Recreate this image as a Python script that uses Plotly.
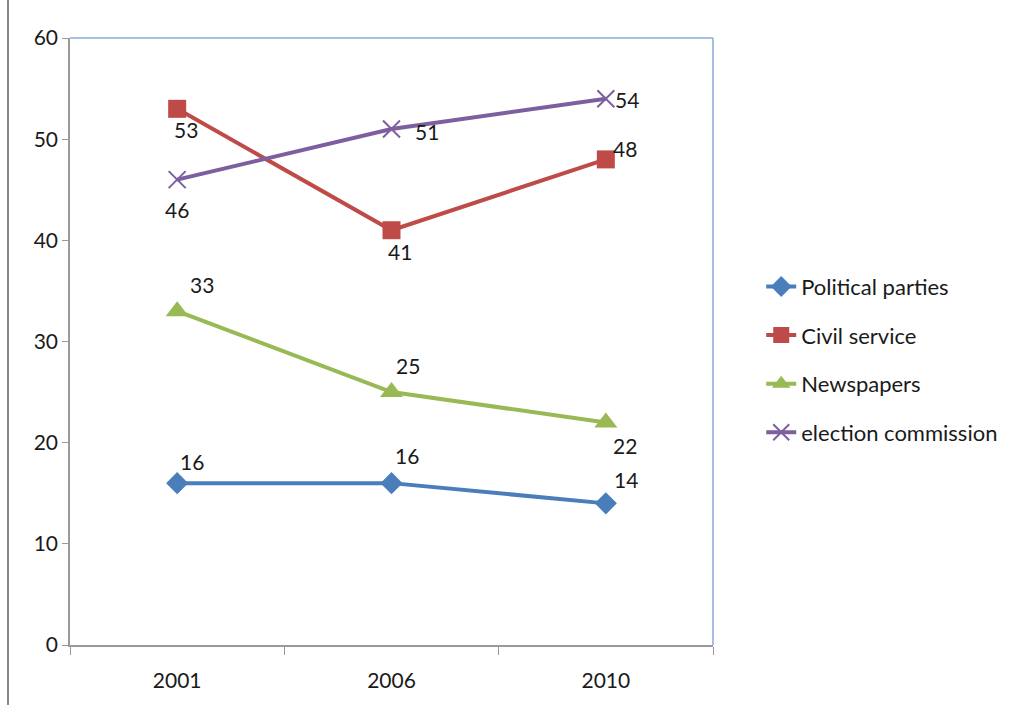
import plotly.graph_objects as go

years = ["2001", "2006", "2010"]
political_parties = [16, 16, 14]
civil_service = [53, 41, 48]
newspapers = [33, 25, 22]
election_commission = [46, 51, 54]

series = [
    ("Political parties", political_parties, "#4a7ebb", "diamond", 17, None),
    ("Civil service", civil_service, "#be4b48", "square", 18, None),
    ("Newspapers", newspapers, "#98b954", "triangle-up", 20, None),
    ("election commission", election_commission, "#7d5fa0", "x-thin", 17, 2),
]

# label offsets (px) per series, per point
offsets = {
    "Political parties": [(15, 22), (15, 28), (20, 24)],
    "Civil service": [(9, -21), (8, -21), (19, 11)],
    "Newspapers": [(25, 27), (16, 27), (19, -23)],
    "election commission": [(0, -30), (35, -2), (21, -1)],
}

fig = go.Figure()
for name, vals, color, sym, size, lw in series:
    marker = dict(symbol=sym, size=size, color=color)
    if lw:
        marker["line"] = dict(width=lw, color=color)
    fig.add_trace(go.Scatter(
        x=years, y=vals, name=name, mode="lines+markers",
        line=dict(color=color, width=4), marker=marker,
        legendgroup=name,
    ))
    # category positions are addressed by index for the value labels
    for i, ((dx, dy), yv) in enumerate(zip(offsets[name], vals)):
        fig.add_annotation(x=i, y=yv, text=str(yv), showarrow=False,
                           xshift=dx, yshift=dy,
                           font=dict(size=21, color="#1a1a1a"))

fig.update_layout(
    width=1020, height=705,
    margin=dict(l=70, r=307, t=38, b=60),
    paper_bgcolor="white", plot_bgcolor="white",
    font=dict(family="Lato, 'Open Sans', sans-serif", size=21, color="#1a1a1a"),
    showlegend=True,
    legend=dict(x=1.075, y=0.47, xanchor="left", yanchor="middle",
                font=dict(size=22), tracegroupgap=17,
                bgcolor="rgba(0,0,0,0)"),
    xaxis=dict(type="category", tickson="boundaries", ticks="outside",
               ticklen=8, tickcolor="#999999", showline=True,
               linecolor="#999999", linewidth=1.5, showgrid=False,
               range=[-0.5, 2.5], tickfont=dict(size=21),
               ticklabelstandoff=16),
    yaxis=dict(range=[0, 60], dtick=10, ticks="outside", ticklen=6,
               tickcolor="#999999", showline=True, linecolor="#999999",
               linewidth=1.5, showgrid=False, zeroline=False,
               tickfont=dict(size=21)),
    shapes=[
        dict(type="line", xref="paper", yref="paper", x0=0, x1=1, y0=1, y1=1,
             line=dict(color="#8aaad6", width=1.5)),
        dict(type="line", xref="paper", yref="paper", x0=1, x1=1, y0=0, y1=1,
             line=dict(color="#8aaad6", width=1.5)),
        dict(type="line", xref="paper", yref="paper", x0=-62 / 643, x1=-62 / 643,
             y0=-60 / 607, y1=(607 + 38) / 607,
             line=dict(color="#888888", width=2)),
    ],
)

fig.write_html("out.html")
